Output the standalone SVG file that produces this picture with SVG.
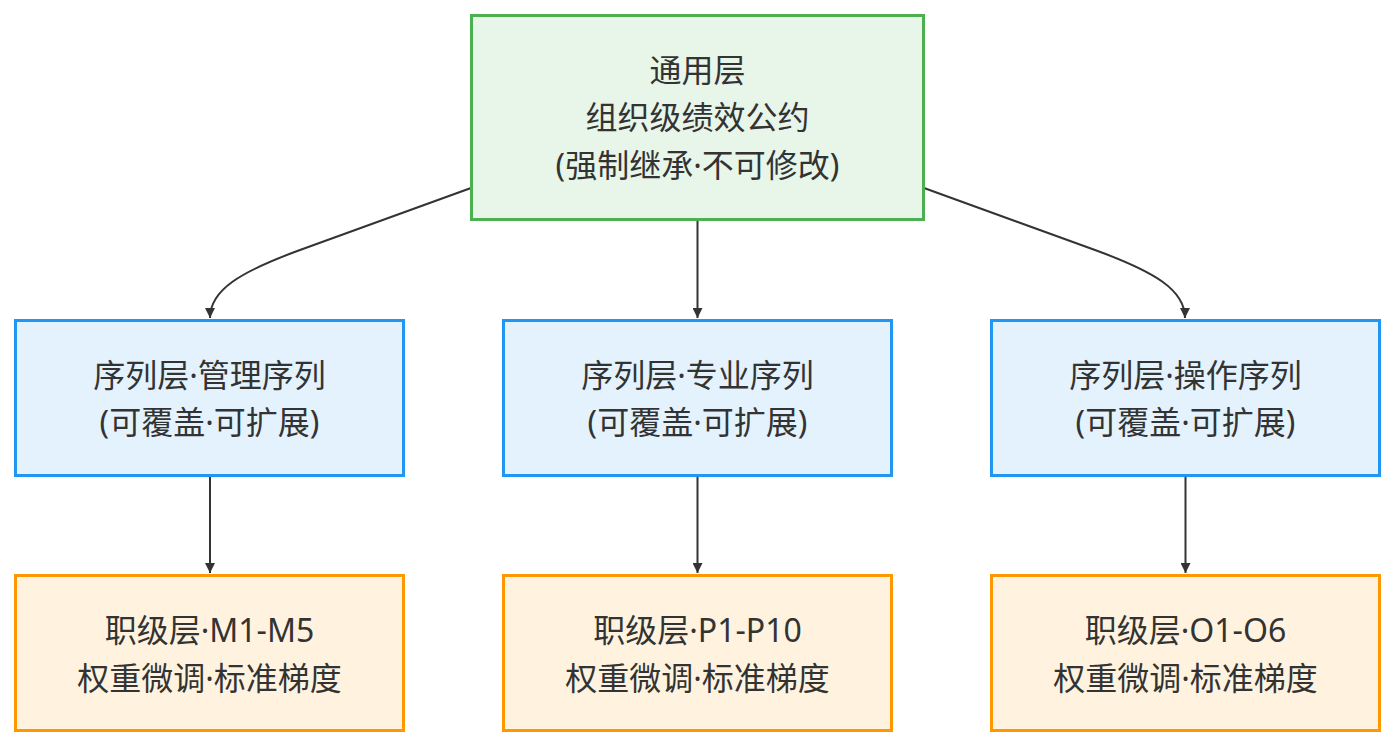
<svg xmlns="http://www.w3.org/2000/svg" width="1395" height="748" viewBox="0 0 1395 748">
<defs>
<marker id="arr" viewBox="0 0 10 10" refX="10" refY="5" markerWidth="10" markerHeight="10" markerUnits="userSpaceOnUse" orient="auto">
<path d="M0,0 L10,5 L0,10 z" fill="#333"/>
</marker>
<style>
.g rect{fill:#E8F5E9;stroke:#4CAF50;stroke-width:3}
.b rect{fill:#E3F2FD;stroke:#2196F3;stroke-width:3}
.o rect{fill:#FFF3E0;stroke:#FF9800;stroke-width:3}
text{font-family:"Noto Sans","Noto Sans CJK SC",sans-serif;font-size:32px;fill:#333;text-anchor:middle}
.e path{fill:none;stroke:#333;stroke-width:2;marker-end:url(#arr)}
</style>
</defs>
<rect width="1395" height="748" fill="#fff"/>
<g class="e" id="edges">
<path d="M471,188 L300,250 C240,272 210,290 210,318"/>
<path d="M697.5,220 L697.5,318"/>
<path d="M924,188 L1095,250 C1155,272 1185,290 1185,318"/>
<path d="M210,476 L210,573"/>
<path d="M697.5,476 L697.5,573"/>
<path d="M1185.5,476 L1185.5,573"/>
</g>
<g id="top" class="g">
<rect x="471.5" y="15.5" width="452" height="204"/>
<text x="697.5" y="82">通用层</text>
<text x="697.5" y="129">组织级绩效公约</text>
<text x="697.5" y="177">(强制继承·不可修改)</text>
</g>
<g id="mgr" class="b">
<rect x="15.5" y="320.5" width="388" height="155"/>
<text x="209.5" y="387">序列层·管理序列</text>
<text x="209.5" y="434">(可覆盖·可扩展)</text>
</g>
<g id="pro" class="b">
<rect x="503.5" y="320.5" width="388" height="155"/>
<text x="697.5" y="387">序列层·专业序列</text>
<text x="697.5" y="434">(可覆盖·可扩展)</text>
</g>
<g id="ops" class="b">
<rect x="991.5" y="320.5" width="388" height="155"/>
<text x="1185.5" y="387">序列层·操作序列</text>
<text x="1185.5" y="434">(可覆盖·可扩展)</text>
</g>
<g id="m" class="o">
<rect x="15.5" y="575.5" width="388" height="155"/>
<text x="209.5" y="642">职级层·M1-M5</text>
<text x="209.5" y="690">权重微调·标准梯度</text>
</g>
<g id="p" class="o">
<rect x="503.5" y="575.5" width="388" height="155"/>
<text x="697.5" y="642">职级层·P1-P10</text>
<text x="697.5" y="690">权重微调·标准梯度</text>
</g>
<g id="op" class="o">
<rect x="991.5" y="575.5" width="388" height="155"/>
<text x="1185.5" y="642">职级层·O1-O6</text>
<text x="1185.5" y="690">权重微调·标准梯度</text>
</g>
</svg>
